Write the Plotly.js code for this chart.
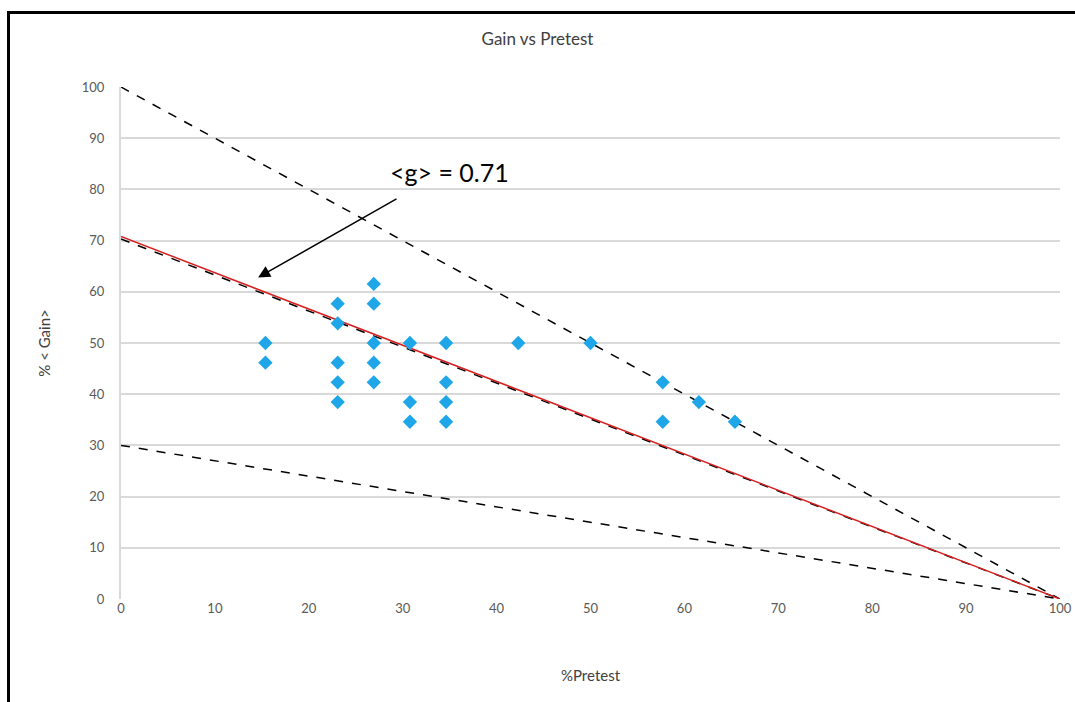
<!DOCTYPE html>
<html>
<head>
<meta charset="utf-8">
<script src="https://cdn.plot.ly/plotly-3.0.1.min.js"></script>
<style>
html,body{margin:0;padding:0;background:#fff;}
#wrap{position:relative;width:1075px;height:702px;}
#chart{position:absolute;left:0;top:0;width:1075px;height:702px;}
#frame{position:absolute;left:7px;top:11px;width:1075px;height:702px;border-top:3px solid #000;border-left:3px solid #000;pointer-events:none;}
</style>
</head>
<body>
<div id="wrap"><div id="chart"></div><div id="frame"></div></div>
<script>
// Data
var pretest = [15.38,15.38, 23.08,23.08,23.08,23.08,23.08, 26.92,26.92,26.92,26.92,26.92, 30.77,30.77,30.77, 34.62,34.62,34.62,34.62, 42.31, 50, 57.69,57.69, 61.54, 65.38];
var gain    = [50,46.15, 57.69,53.85,46.15,42.31,38.46, 61.54,57.69,50,46.15,42.31, 50,38.46,34.62, 50,42.31,38.46,34.62, 50, 50, 42.31,34.62, 38.46, 34.62];

var lineX = [0, 100];
var maxGainY = [100, 0];
var lowGainY = [30, 0];
var highGainY = [70.3, 0];
var avgGainY = [70.8, 0];

var ticks = [0,10,20,30,40,50,60,70,80,90,100];

var traces = [
  {x: lineX, y: maxGainY, mode:'lines', line:{color:'#000', width:1.5, dash:'dash'}, hoverinfo:'skip'},
  {x: lineX, y: lowGainY, mode:'lines', line:{color:'#000', width:1.5, dash:'dash'}, hoverinfo:'skip'},
  {x: lineX, y: highGainY, mode:'lines', line:{color:'#000', width:1.5, dash:'dash'}, hoverinfo:'skip'},
  {x: lineX, y: avgGainY, mode:'lines', line:{color:'#d62020', width:1.5}, hoverinfo:'skip'},
  {x: pretest, y: gain, mode:'markers', marker:{symbol:'diamond', size:11, color:'#1fa6e8'}}
];

var layout = {
  width:1075, height:702,
  margin:{l:121, r:15, t:87, b:103},
  paper_bgcolor:'#fff', plot_bgcolor:'#fff',
  showlegend:false,
  font:{family:'Lato, "Open Sans", sans-serif', color:'#595959', size:13},
  title:{text:'Gain vs Pretest', x:0.5, xanchor:'center', y:0.945, yanchor:'middle', font:{size:17, color:'#404040'}},
  xaxis:{range:[0,100], tickvals:ticks, ticktext:ticks.map(String), showgrid:false, zeroline:false, showline:false,
         ticks:'', ticklen:0, title:{text:'%Pretest', font:{size:15, color:'#404040'}, standoff:55}},
  yaxis:{range:[0,100], tickvals:ticks, ticktext:ticks.map(String), showgrid:true, gridcolor:'#d9d9d9', gridwidth:2,
         zeroline:false, showline:true, linecolor:'#d9d9d9', linewidth:2, ticks:'', ticklen:0,
         ticklabelstandoff:12,
         title:{text:'% < Gain>', font:{size:15, color:'#404040'}, standoff:28}},
  annotations:[
    {x:14.6, y:62.8, ax:29.5, ay:78.3, xref:'x', yref:'y', axref:'x', ayref:'y', text:'', showarrow:true,
     arrowhead:2, arrowsize:1.6, arrowwidth:1.5, arrowcolor:'#000'},
    {x:35.0, y:83.4, xref:'x', yref:'y', text:'<g> = 0.71', showarrow:false,
     font:{size:25, color:'#000', family:'Lato, "Open Sans", sans-serif'}}
  ]
};

Plotly.newPlot('chart', traces, layout, {displayModeBar:false, staticPlot:true});
</script>
</body>
</html>
